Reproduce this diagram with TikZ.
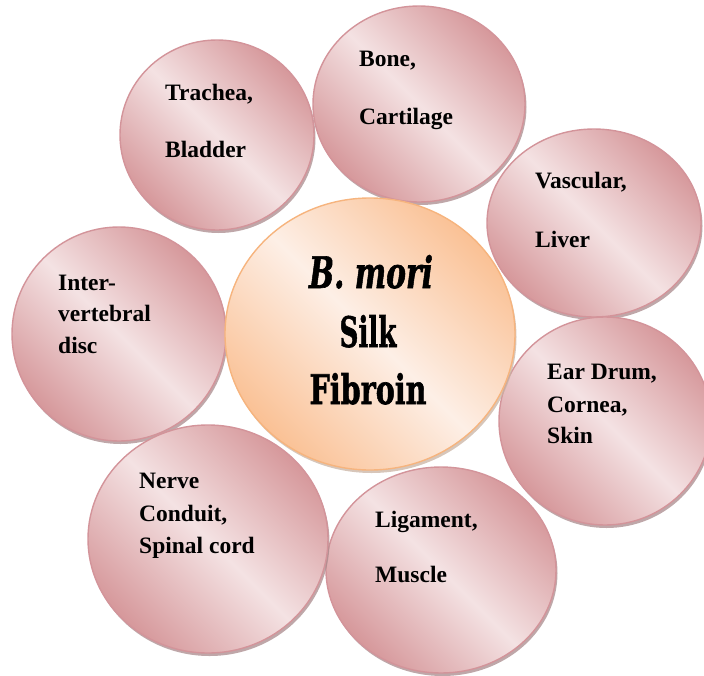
\documentclass[tikz,border=0pt]{standalone}
\usepackage{graphicx}
\usepackage{fontspec}
\setmainfont{Liberation Serif}
\newfontface\heavyup{DejaVu Serif Condensed Bold}[FakeBold=1.5]
\newfontface\heavyit{DejaVu Serif Condensed Bold Italic}[FakeBold=1.5]
\usetikzlibrary{shapes.geometric,shadows}
\definecolor{pinkdark}{HTML}{D6989B}
\definecolor{pinklight}{HTML}{F4E2E3}
\definecolor{pinkedge}{HTML}{D3949A}
\definecolor{shadowpink}{HTML}{A98A8C}
\definecolor{orangedark}{HTML}{FAC195}
\definecolor{orangelight}{HTML}{FDEFE6}
\definecolor{orangeedge}{HTML}{F6B47E}
\definecolor{shadoworange}{HTML}{C9B3A3}
\begin{document}
\begin{tikzpicture}[x=1pt,y=-1pt,
  sat/.style={ellipse, draw=pinkedge, line width=1.4pt, inner sep=0pt,
    top color=pinkdark, bottom color=pinkdark, middle color=pinklight, shading angle=-45,
    drop shadow={shadow xshift=1.5pt, shadow yshift=-3pt, fill=shadowpink, opacity=0.75}},
  hub/.style={ellipse, draw=orangeedge, line width=1.4pt, inner sep=0pt,
    top color=orangedark, bottom color=orangedark, middle color=orangelight, shading angle=-45,
    drop shadow={shadow xshift=1.5pt, shadow yshift=-3pt, fill=shadoworange, opacity=0.75}},
  lbl/.style={anchor=base west, inner sep=0pt, font=\fontsize{23.5}{28}\selectfont\bfseries},
  hubtxt/.style={anchor=base, inner sep=0pt, font=\fontsize{40}{40}\selectfont}]
\useasboundingbox (0,0) rectangle (704,675);
\node[sat, minimum width=194pt, minimum height=190pt] (trachea) at (217,135) {};
\node[sat, minimum width=212pt, minimum height=196pt] (bone) at (419,104) {};
\node[sat, minimum width=214pt, minimum height=188pt] (vascular) at (594,223) {};
\node[sat, minimum width=212pt, minimum height=208pt] (ear) at (605,421) {};
\node[sat, minimum width=230pt, minimum height=206pt] (ligament) at (441,570) {};
\node[sat, minimum width=214pt, minimum height=214pt] (disc) at (119,334) {};
\node[sat, minimum width=240pt, minimum height=228pt] (nerve) at (208,539) {};
\node[hub, minimum width=290pt, minimum height=272pt] (hub) at (370,334) {};
% labels
\node[lbl] (t1) at (165,100) {Trachea,};
\node[lbl] (t2) at (165,157) {Bladder};
\node[lbl] (b1) at (359,66) {Bone,};
\node[lbl] (b2) at (359,124) {Cartilage};
\node[lbl] (v1) at (535,188) {Vascular,};
\node[lbl] (v2) at (535,247) {Liver};
\node[lbl] (e1) at (547,379) {Ear Drum,};
\node[lbl] (e2) at (547,412) {Cornea,};
\node[lbl] (e3) at (547,443) {Skin};
\node[lbl] (d1) at (58,290) {Inter-};
\node[lbl] (d2) at (58,321) {vertebral};
\node[lbl] (d3) at (58,353) {disc};
\node[lbl] (n1) at (139,488) {Nerve};
\node[lbl] (n2) at (139,521) {Conduit,};
\node[lbl] (n3) at (139,553) {Spinal cord};
\node[lbl] (l1) at (375,527) {Ligament,};
\node[lbl] (l2) at (375,582) {Muscle};
% hub text
\node[hubtxt] (h1) at (371,288) {\resizebox{124pt}{33pt}{\heavyit B. mori}};
\node[hubtxt] (h2) at (368,347) {\resizebox{57pt}{32pt}{\heavyup Silk}};
\node[hubtxt] (h3) at (368,404) {\resizebox{117pt}{31pt}{\heavyup Fibroin}};
\end{tikzpicture}
\end{document}
